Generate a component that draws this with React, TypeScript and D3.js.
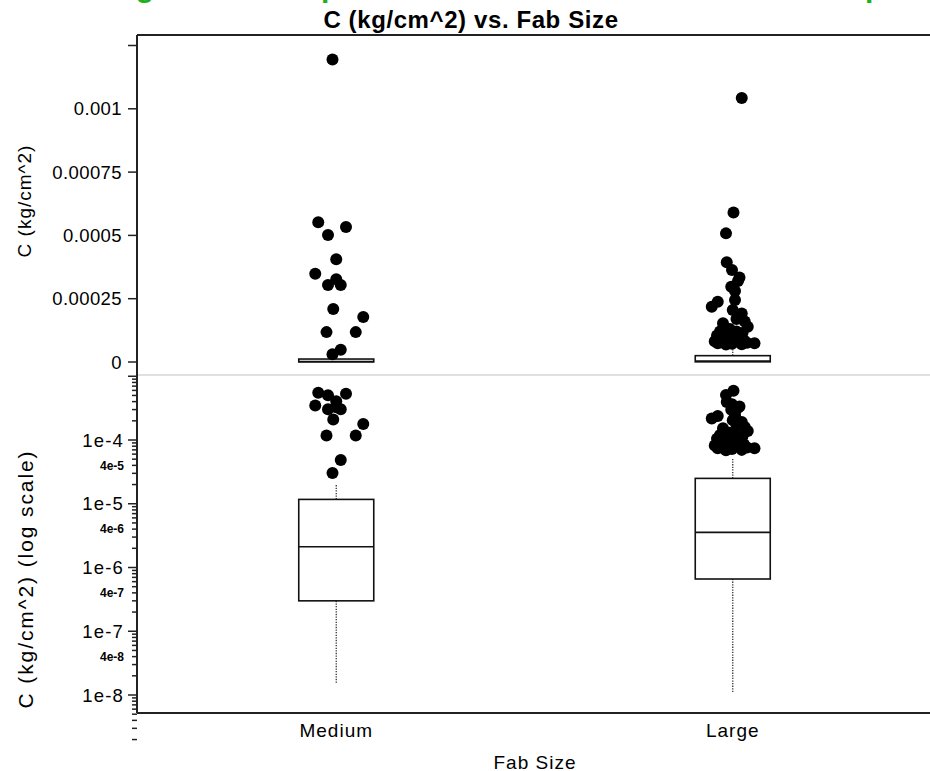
import React from "react";
import * as d3 from "d3";

const categories = ["Medium", "Large"];
const q1 = [3.0e-7, 6.6e-7];
const median = [2.12e-6, 3.56e-6];
const q3 = [1.17e-5, 2.5e-5];
const whiskerLow = [1.53e-8, 1.06e-8];
const whiskerHigh = [1.97e-5, 5.2e-5];

const mediumOutliers = [1.195e-3, 5.52e-4, 5.33e-4, 5.02e-4, 4.06e-4, 3.49e-4, 3.27e-4, 3.04e-4, 3.04e-4, 2.09e-4, 1.78e-4, 1.18e-4, 1.18e-4, 4.86e-5, 3.04e-5];
const mediumJitter = [-0.05, -0.24, 0.13, -0.11, 0, -0.28, 0, -0.11, 0.06, -0.04, 0.36, -0.13, 0.26, 0.06, -0.05];

const largeOutliers = [1.043e-3, 5.9e-4, 5.08e-4, 3.94e-4, 3.63e-4, 3.34e-4, 3.2e-4, 2.97e-4, 2.8e-4, 2.45e-4, 2.38e-4, 2.18e-4, 2.05e-4, 1.92e-4, 1.7e-4, 1.6e-4, 1.53e-4, 1.39e-4, 1.3e-4, 1.2e-4, 1.2e-4, 1.15e-4, 1.1e-4, 1.05e-4, 1.0e-4, 9.5e-5, 9.2e-5, 9.0e-5, 8.8e-5, 8.5e-5, 8.2e-5, 8.0e-5, 7.8e-5, 7.6e-5, 7.4e-5, 7.4e-5, 7.2e-5, 7.0e-5, 6.9e-5];
const largeJitter = [0.12, 0.01, -0.09, -0.08, -0.01, 0.09, 0.07, -0.02, 0.03, 0.03, -0.2, -0.28, 0, 0.12, 0.05, 0.16, -0.13, 0.2, -0.04, -0.17, 0.05, 0.13, -0.08, -0.21, 0.08, 0.01, -0.07, -0.13, 0.07, 0.15, -0.24, -0.04, -0.16, 0.19, 0.29, -0.2, -0.01, 0.12, -0.09];

const linearTicks = [0, 0.00025, 0.0005, 0.00075, 0.001, 0.00125];
const linearTickLabels = ["0", "0.00025", "0.0005", "0.00075", "0.001", ""];
const logMajorValues = [1e-4, 1e-5, 1e-6, 1e-7, 1e-8];
const logMajorLabels = ["1e-4", "1e-5", "1e-6", "1e-7", "1e-8"];
const logMinorValues = [4e-5, 4e-6, 4e-7, 4e-8];
const logMinorLabels = ["4e-5", "4e-6", "4e-7", "4e-8"];

const titleText = "C (kg/cm^2) vs. Fab Size";
const yLabelTop = "C (kg/cm^2)";
const yLabelBottom = "C (kg/cm^2) (log scale)";
const xLabel = "Fab Size";

const FONT = "'Liberation Sans', Arial, sans-serif";

export default function App() {
  const W = 930, H = 771;
  const left = 137, right = 930, top = 35, sep = 375, bottom = 713;
  const boxW = 75;
  const r = 6;

  const x = d3.scalePoint<string>().domain(categories).range([138, 931]).padding(0.5);
  const yLin = d3.scaleLinear().domain([0, 0.001]).range([362, 108.8]);
  const yLog = d3.scaleLog().domain([1e-8, 1e-4]).range([695, 440]);
  const logTicks = yLog.copy().domain([2e-9, 1e-3]).ticks();

  const outliers = [mediumOutliers, largeOutliers];
  const jitters = [mediumJitter, largeJitter];

  const isMajor = (v: number) => Math.abs(Math.log10(v) - Math.round(Math.log10(v))) < 1e-6;

  const drawBox = (y: (v: number) => number, i: number, key: string) => {
    const cx = x(categories[i])!;
    return (
      <g key={key}>
        <line x1={cx} x2={cx} y1={y(q3[i])} y2={y(whiskerHigh[i])} stroke="#333" strokeWidth={1.3} strokeDasharray="1.3,1.3" />
        <line x1={cx} x2={cx} y1={y(q1[i])} y2={y(whiskerLow[i])} stroke="#333" strokeWidth={1.3} strokeDasharray="1.3,1.3" />
        <rect x={cx - boxW / 2} y={y(q3[i])} width={boxW} height={Math.max(y(q1[i]) - y(q3[i]), 0)} fill="#fff" stroke="#111" strokeWidth={1.6} />
        <line x1={cx - boxW / 2} x2={cx + boxW / 2} y1={y(median[i])} y2={y(median[i])} stroke="#111" strokeWidth={1.6} />
      </g>
    );
  };

  const drawPoints = (y: (v: number) => number, filter: (v: number) => boolean, key: string) =>
    outliers.map((arr, i) => (
      <g key={key + i}>
        {arr.map((v, j) =>
          filter(v) ? (
            <circle key={j} cx={x(categories[i])! + jitters[i][j] * boxW} cy={y(v)} r={r} fill="#000" />
          ) : null
        )}
      </g>
    ));

  return (
    <svg width={W} height={H} style={{ display: "block", position: "absolute", left: 0, top: 0 }} fontFamily={FONT}>
      <rect width={W} height={H} fill="#fff" />
      <defs>
        <clipPath id="clipTop"><rect x={left} y={top} width={right - left} height={sep - top} /></clipPath>
        <clipPath id="clipBot"><rect x={left} y={sep} width={right - left} height={bottom - sep} /></clipPath>
      </defs>

      {/* heading above the chart, cut off by the top edge as in the reference */}
      <g fill="#1cb01c" fontWeight="bold" fontSize={30}>
        <text x={145} y={-3.3} textAnchor="middle">g</text>
        <text x={321} y={-3.3}>p</text>
        <text x={865} y={-3.3}>p</text>
      </g>

      <text x={471} y={28} textAnchor="middle" fontWeight="bold" fontSize={24} letterSpacing={0.6}>{titleText}</text>

      {/* upper linear panel */}
      <g clipPath="url(#clipTop)">
        {categories.map((_, i) => drawBox(yLin, i, "bt" + i))}
        {drawPoints(yLin, () => true, "pt")}
      </g>
      {/* lower log panel */}
      <g clipPath="url(#clipBot)">
        {categories.map((_, i) => drawBox(yLog, i, "bb" + i))}
        {drawPoints(yLog, (v) => v <= 1e-3, "pb")}
      </g>

      <line x1={left} x2={right} y1={sep} y2={sep} stroke="#e0e0e0" strokeWidth={2} />

      {/* frame */}
      <line x1={left} x2={right} y1={top} y2={top} stroke="#222" strokeWidth={2} />
      <line x1={left} x2={right} y1={bottom} y2={bottom} stroke="#222" strokeWidth={2} />
      <line x1={left} x2={left} y1={top} y2={bottom} stroke="#222" strokeWidth={2} />

      {/* linear axis ticks */}
      {linearTicks.map((t, i) => (
        <g key={"lt" + i}>
          <line x1={left - 9} x2={left} y1={yLin(t)} y2={yLin(t)} stroke="#222" strokeWidth={1.5} />
          <text x={122} y={yLin(t)} dy="0.36em" textAnchor="end" fontSize={18.5} letterSpacing={0.4}>{linearTickLabels[i]}</text>
        </g>
      ))}

      {/* log axis ticks */}
      {logTicks.map((t, i) => (
        <line key={"gt" + i} x1={left - (isMajor(t) ? 9 : 5)} x2={left} y1={yLog(t)} y2={yLog(t)} stroke="#222" strokeWidth={1.5} />
      ))}
      {logMajorValues.map((t, i) => (
        <text key={"gl" + i} x={124} y={yLog(t)} dy="0.36em" textAnchor="end" fontSize={18.5} letterSpacing={1.2}>{logMajorLabels[i]}</text>
      ))}
      {logMinorValues.map((t, i) => (
        <text key={"gm" + i} x={124} y={yLog(t)} dy="0.36em" textAnchor="end" fontSize={12} fontWeight="bold">{logMinorLabels[i]}</text>
      ))}

      {/* y labels */}
      <text transform={`translate(31,201) rotate(-90)`} textAnchor="middle" fontSize={19} letterSpacing={1}>{yLabelTop}</text>
      <text transform={`translate(33,579) rotate(-90)`} textAnchor="middle" fontSize={21} letterSpacing={1.9}>{yLabelBottom}</text>

      {/* x axis */}
      {categories.map((c) => (
        <text key={c} x={x(c)!} y={737} textAnchor="middle" fontSize={19} letterSpacing={1}>{c}</text>
      ))}
      <text x={535} y={769} textAnchor="middle" fontSize={19} letterSpacing={1}>{xLabel}</text>
    </svg>
  );
}
